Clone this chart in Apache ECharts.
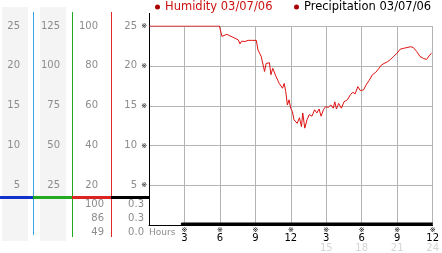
<!DOCTYPE html>
<html><head><meta charset="utf-8">
<script src="https://cdn.jsdelivr.net/npm/echarts@6/dist/echarts.min.js"></script>
<style>html,body{margin:0;padding:0;background:#fff}#c{width:442px;height:253px}</style>
</head><body><div id="c"></div>
<script>
// ---- data ----
var humidityHours = [0, 5.96, 6.17, 6.59, 6.87, 7.28, 7.56, 7.70, 7.83, 8.11, 8.39, 8.66, 9.08, 9.22, 9.49, 9.78, 9.91, 10.19, 10.32, 10.47, 10.61, 10.74, 11.02, 11.15, 11.30, 11.44, 11.57, 11.71, 11.85, 11.99, 12.13, 12.27, 12.54, 12.73, 12.90, 13.01, 13.18, 13.37, 13.56, 13.79, 14.01, 14.20, 14.39, 14.56, 14.76, 14.95, 15.17, 15.39, 15.59, 15.72, 15.86, 16.05, 16.28, 16.50, 16.78, 17.05, 17.25, 17.44, 17.67, 17.88, 18.16, 18.36, 18.63, 18.91, 19.19, 19.46, 19.66, 19.88, 20.16, 20.43, 20.71, 20.99, 21.26, 21.54, 21.82, 22.15, 22.37, 22.65, 22.92, 23.20, 23.48, 23.70, 23.90];
var humidityValues = [25, 25, 23.7, 23.96, 23.75, 23.46, 23.25, 22.75, 23.1, 23.05, 23.2, 23.2, 23.2, 22.0, 21.2, 19.3, 20.3, 20.4, 18.9, 19.7, 19.5, 18.7, 17.8, 18.0, 17.2, 17.8, 16.8, 15.1, 15.75, 14.7, 14.3, 13.25, 12.8, 13.5, 12.4, 14.1, 12.2, 13.25, 13.9, 13.7, 14.5, 14.1, 14.6, 13.7, 14.5, 14.9, 14.8, 15.1, 14.7, 15.5, 14.6, 15.3, 14.7, 15.5, 15.75, 16.4, 16.7, 16.5, 17.4, 16.9, 17.0, 17.6, 18.2, 18.9, 19.2, 19.7, 20.1, 20.3, 20.5, 20.8, 21.2, 21.6, 22.1, 22.2, 22.3, 22.4, 22.3, 21.8, 21.2, 20.95, 20.8, 21.25, 21.6];
var precipHours = [0, 2.74, 2.74, 24];
var precipValues = [0, 0, 0.3, 0.3];
var hourTicks12 = ['', '3', '6', '9', '12', '3', '6', '9', '12'];
var hourTicks24 = ['', '', '', '', '', '15', '18', '21', '24'];
var statsHumidity = ['100', '86', '49'];
var statsPrecip = ['0.3', '0.3', '0.0'];
var legendNames = ['Humidity 03/07/06', 'Precipitation 03/07/06'];

// ---- chart ----
var chart = echarts.init(document.getElementById('c'), null, {renderer: 'canvas'});
var F = 'DejaVu Sans';
var gray = '#8c8c8c';
function numAxis(max, interval, offset, margin) {
  return {
    type: 'value', position: 'left', min: 0, max: max, interval: interval, offset: offset,
    axisLine: {show: false}, axisTick: {show: false}, splitLine: {show: false},
    axisLabel: {margin: margin, color: gray, fontFamily: F, fontSize: 10,
      formatter: function (v) { return v === 0 ? '' : String(v); }}
  };
}
var humSeries = humidityHours.map(function (h, i) { return [h, humidityValues[i]]; });
var preSeries = precipHours.map(function (h, i) { return [h, precipValues[i]]; });

var graphics = [
  {type: 'rect', shape: {x: 2, y: 7, width: 26, height: 234}, style: {fill: '#f4f4f4'}, silent: true, z: -10},
  {type: 'rect', shape: {x: 40, y: 7, width: 26, height: 234}, style: {fill: '#f4f4f4'}, silent: true, z: -10},
  {type: 'rect', shape: {x: 33, y: 12, width: 1, height: 223}, style: {fill: '#3aa6dd'}, z: 10},
  {type: 'rect', shape: {x: 72, y: 12, width: 1, height: 225}, style: {fill: '#1fa81f'}, z: 10},
  {type: 'rect', shape: {x: 111, y: 12, width: 1, height: 225}, style: {fill: '#e02828'}, z: 10},
  {type: 'rect', shape: {x: 149, y: 13, width: 1, height: 14}, style: {fill: '#000'}},
  {type: 'rect', shape: {x: 0, y: 196, width: 33, height: 3}, style: {fill: '#1133cc'}, z: 11},
  {type: 'rect', shape: {x: 33, y: 196, width: 39, height: 3}, style: {fill: '#22aa22'}, z: 11},
  {type: 'rect', shape: {x: 72, y: 196, width: 39, height: 3}, style: {fill: '#dd2222'}, z: 11},
  {type: 'rect', shape: {x: 111, y: 196, width: 39, height: 3}, style: {fill: '#000'}, z: 11}
];
var statRowsY = [204.5, 218.5, 232.5];
statsHumidity.forEach(function (t, i) {
  graphics.push({type: 'text', x: 104, y: statRowsY[i], style: {text: t, fill: gray, font: '10px "DejaVu Sans"', textAlign: 'right', textVerticalAlign: 'middle'}});
});
statsPrecip.forEach(function (t, i) {
  graphics.push({type: 'text', x: 144, y: statRowsY[i], style: {text: t, fill: gray, font: '10px "DejaVu Sans"', textAlign: 'right', textVerticalAlign: 'middle'}});
});

chart.setOption({
  animation: false,
  backgroundColor: '#fff',
  legend: [
    {data: [{name: legendNames[0], itemStyle: {color: '#aa0000'}, textStyle: {color: '#cc1111'}}],
     left: 155, top: 1, icon: 'circle', itemWidth: 5, itemHeight: 5, padding: 0,
     textStyle: {fontFamily: F, fontSize: 11.5}},
    {data: [{name: legendNames[1], itemStyle: {color: '#aa0000'}, textStyle: {color: '#000'}}],
     left: 294, top: 1, icon: 'circle', itemWidth: 5, itemHeight: 5, padding: 0,
     textStyle: {fontFamily: F, fontSize: 11.5}}
  ],
  grid: {left: 149, right: 4, top: 26, bottom: 27, containLabel: false},
  xAxis: {
    type: 'value', min: 0, max: 24, interval: 3,
    name: 'Hours', nameLocation: 'start', nameGap: 0,
    nameTextStyle: {align: 'left', verticalAlign: 'top', color: gray, fontFamily: F, fontSize: 9, padding: [3, 0, 0, 5]},
    axisLine: {lineStyle: {color: '#000', width: 1}},
    axisTick: {show: false},
    splitLine: {lineStyle: {color: '#b4b4b4', width: 1}},
    axisLabel: {
      margin: 2, showMinLabel: true, showMaxLabel: true,
      formatter: function (v) {
        var i = Math.round(v / 3);
        if (!hourTicks12[i]) return '';
        return '{m|※}\n{b|' + hourTicks12[i] + '}\n{g|' + (hourTicks24[i] || ' ') + '}';
      },
      rich: {
        m: {fontSize: 7, lineHeight: 6, color: '#000', fontFamily: F},
        b: {fontSize: 10, lineHeight: 9, color: '#000', fontFamily: F},
        g: {fontSize: 10, lineHeight: 11, color: '#d4d4d4', fontFamily: F}
      }
    }
  },
  yAxis: [
    {type: 'value', position: 'left', min: 0, max: 25, interval: 5,
     axisLine: {show: true, lineStyle: {color: '#000', width: 1}}, axisTick: {show: false},
     splitLine: {lineStyle: {color: '#b4b4b4', width: 1}},
     axisLabel: {margin: 2, color: '#000', fontSize: 7, fontFamily: F,
       formatter: function (v) { return v === 0 ? '' : '※'; }}},
    numAxis(25, 5, 0, 12),
    numAxis(100, 20, 43, 8),
    numAxis(125, 25, 81, 8),
    numAxis(25, 5, 121, 8),
    {type: 'value', min: 0, max: 24, show: false}
  ],
  series: [
    {name: legendNames[0], type: 'line', data: humSeries, yAxisIndex: 0, symbol: 'none',
     lineStyle: {color: '#dd1111', width: 1}, itemStyle: {color: '#dd1111'}},
    {name: legendNames[1], type: 'line', data: preSeries, yAxisIndex: 5, symbol: 'none',
     lineStyle: {color: '#000', width: 1}, itemStyle: {color: '#000'},
     areaStyle: {color: '#000', opacity: 1}}
  ],
  graphic: graphics
});
</script>
</body></html>
